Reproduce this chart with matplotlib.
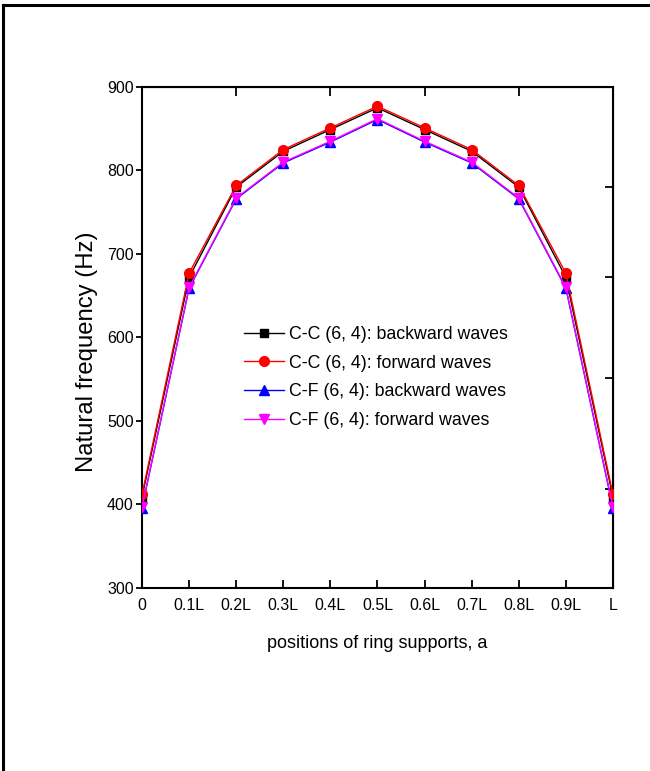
import matplotlib
matplotlib.use("Agg")
import matplotlib.pyplot as plt
from matplotlib.lines import Line2D

plt.rcParams['font.family'] = ['Liberation Sans', 'DejaVu Sans']

# Support positions along the shell length
positions = [0.0, 0.1, 0.2, 0.3, 0.4, 0.5, 0.6, 0.7, 0.8, 0.9, 1.0]
tick_labels = ["0", "0.1L", "0.2L", "0.3L", "0.4L", "0.5L",
               "0.6L", "0.7L", "0.8L", "0.9L", "L"]

# Natural frequencies (Hz)
cc_backward = [409, 672, 780, 823, 849, 875, 849, 823, 780, 672, 409]
cc_forward = [412, 677, 782, 825, 851, 877, 851, 825, 782, 677, 412]
cf_backward = [396, 659, 766, 809, 834, 861, 834, 809, 766, 659, 396]
cf_forward = [397, 660, 767, 810, 835, 862, 835, 810, 767, 660, 397]

series_labels = ["C-C (6, 4): backward waves", "C-C (6, 4): forward waves",
                 "C-F (6, 4): backward waves", "C-F (6, 4): forward waves"]

fig = plt.figure(figsize=(6.5, 7.71), dpi=100)
ax = fig.add_axes([0.2185, 0.2374, 0.7245, 0.6498])

ax.plot(positions, cc_backward, color="black", marker="s", ms=6, lw=1.0,
        label=series_labels[0], zorder=3)
ax.plot(positions, cc_forward, color="red", marker="o", ms=7, lw=1.0,
        label=series_labels[1], zorder=4)
ax.plot(positions, cf_backward, color="blue", marker="^", ms=7, lw=1.0,
        label=series_labels[2], zorder=3)
ax.plot(positions, cf_forward, color="magenta", marker="v", ms=7.5, lw=1.0,
        label=series_labels[3], zorder=4)

ax.set_xlim(0, 1.0)
ax.set_ylim(300, 900)
ax.set_xticks(positions)
ax.set_xticklabels(tick_labels)
ax.set_yticks([300, 400, 500, 600, 700, 800, 900])

for s in ax.spines.values():
    s.set_linewidth(1.5)
ax.tick_params(axis='x', direction='in', length=6, width=1.3, pad=7,
               labelsize=11.5)
ax.tick_params(axis='y', direction='out', length=4, width=1.3, pad=2,
               labelsize=11.5)

# Top and right tick marks
top = ax.secondary_xaxis('top')
top.set_xticks([0.2, 0.4, 0.6, 0.8])
top.tick_params(direction='in', length=6.5, width=1.3, labeltop=False)
right = ax.secondary_yaxis('right')
right.set_yticks([419, 551, 672, 780])
right.tick_params(direction='in', length=6, width=1.3, labelright=False)

ax.set_xlabel("positions of ring supports, a", fontsize=13, labelpad=16)
ax.set_ylabel("Natural frequency (Hz)", fontsize=17.2)
ax.yaxis.set_label_coords(-0.094, 0.471)

ax.legend(loc='upper left', bbox_to_anchor=(0.2155, 0.523), frameon=False,
          fontsize=12.75, handlelength=2.26, handletextpad=0.3,
          labelspacing=0.66, borderaxespad=0, borderpad=0)

# Frame lines along the left and top edges
fig.add_artist(Line2D([0.004, 0.004], [0.0, 0.994], transform=fig.transFigure,
                      color="black", lw=2.2))
fig.add_artist(Line2D([0.004, 1.0], [0.994, 0.994], transform=fig.transFigure,
                      color="black", lw=2.2))

fig.savefig("out.png", dpi=100)
